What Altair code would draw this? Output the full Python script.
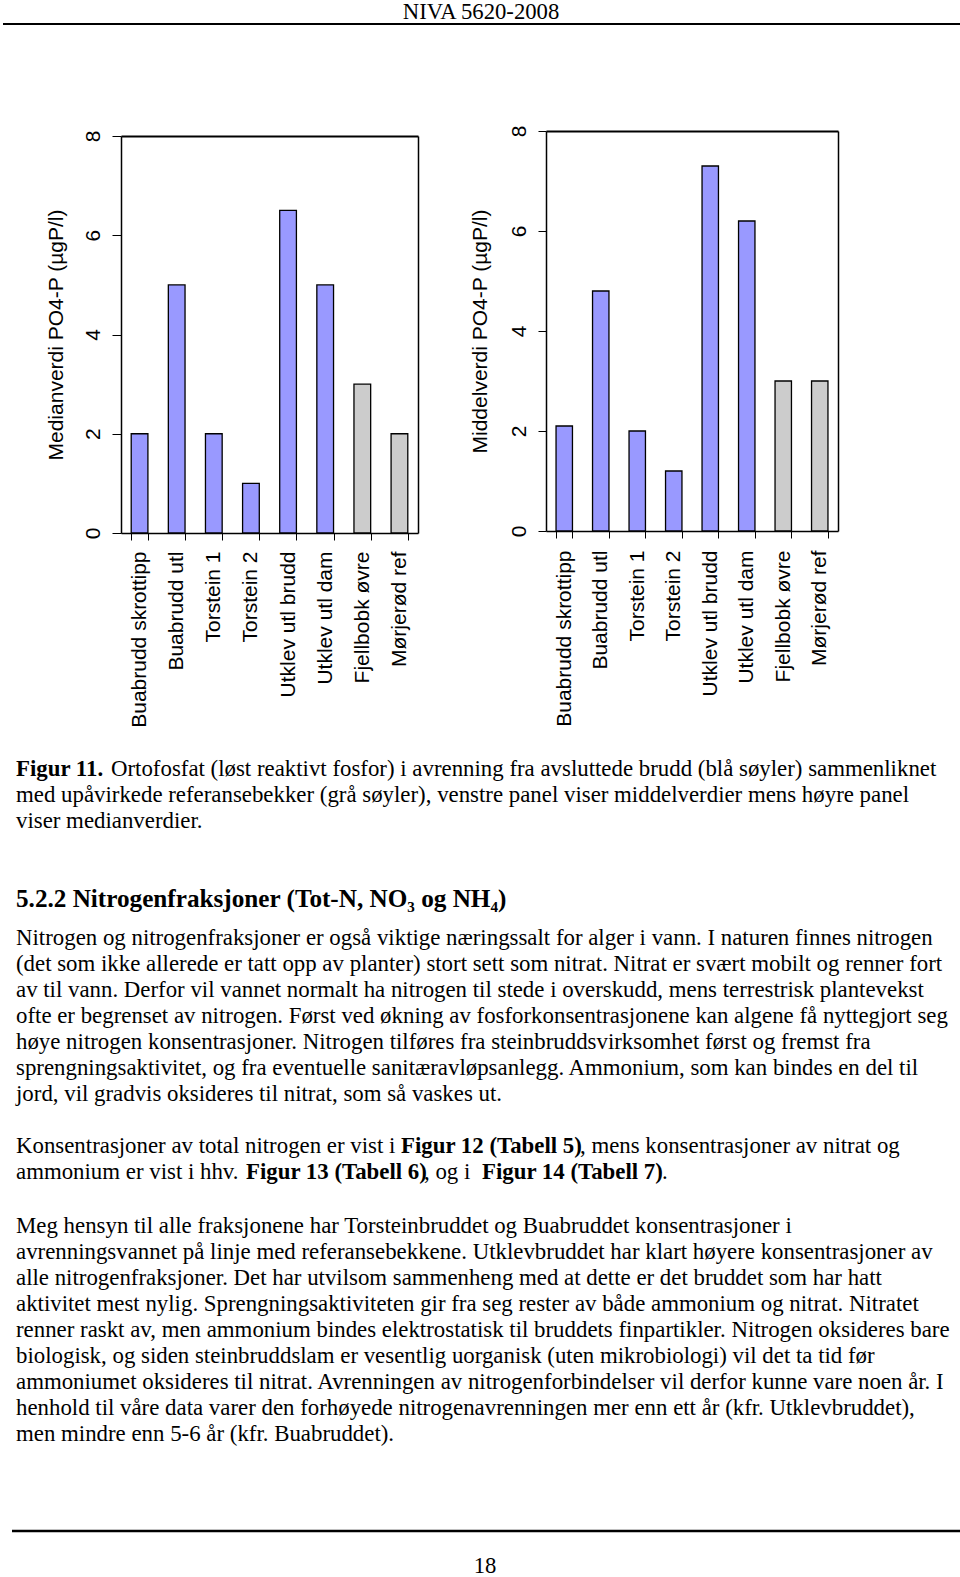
import altair as alt
import pandas as pd

# ---------------- chart data ----------------
sites = ["Buabrudd skrottipp", "Buabrudd utl", "Torstein 1", "Torstein 2",
         "Utklev utl brudd", "Utklev utl dam", "Fjellbobk øvre", "Mørjerød ref"]
groups = ["brudd", "brudd", "brudd", "brudd", "brudd", "brudd", "ref", "ref"]
median_vals = [2.0, 5.0, 2.0, 1.0, 6.5, 5.0, 3.0, 2.0]
mean_vals = [2.1, 4.8, 2.0, 1.2, 7.3, 6.2, 3.0, 3.0]
y_ticks = [0, 2, 4, 6, 8]

# ---------------- page text ----------------
header_text = "NIVA 5620-2008"
caption_bold = "Figur 11."
caption_first = "Ortofosfat (løst reaktivt fosfor) i avrenning fra avsluttede brudd (blå søyler) sammenliknet"
caption_rest = [
    "med upåvirkede referansebekker (grå søyler), venstre panel viser middelverdier mens høyre panel",
    "viser medianverdier.",
]
heading = "5.2.2 Nitrogenfraksjoner (Tot-N, NO₃ og NH₄)"
para1 = [
    "Nitrogen og nitrogenfraksjoner er også viktige næringssalt for alger i vann. I naturen finnes nitrogen",
    "(det som ikke allerede er tatt opp av planter) stort sett som nitrat. Nitrat er svært mobilt og renner fort",
    "av til vann. Derfor vil vannet normalt ha nitrogen til stede i overskudd, mens terrestrisk plantevekst",
    "ofte er begrenset av nitrogen. Først ved økning av fosforkonsentrasjonene kan algene få nyttegjort seg",
    "høye nitrogen konsentrasjoner. Nitrogen tilføres fra steinbruddsvirksomhet først og fremst fra",
    "sprengningsaktivitet, og fra eventuelle sanitæravløpsanlegg. Ammonium, som kan bindes en del til",
    "jord, vil gradvis oksideres til nitrat, som så vaskes ut.",
]
para2_l1 = ["Konsentrasjoner av total nitrogen er vist i", "Figur 12 (Tabell 5)",
            ", mens konsentrasjoner av nitrat og"]
para2_l2 = ["ammonium er vist i hhv.", "Figur 13 (Tabell 6)", ", og i",
            "Figur 14 (Tabell 7)", "."]
para3 = [
    "Meg hensyn til alle fraksjonene har Torsteinbruddet og Buabruddet konsentrasjoner i",
    "avrenningsvannet på linje med referansebekkene. Utklevbruddet har klart høyere konsentrasjoner av",
    "alle nitrogenfraksjoner. Det har utvilsom sammenheng med at dette er det bruddet som har hatt",
    "aktivitet mest nylig. Sprengningsaktiviteten gir fra seg rester av både ammonium og nitrat. Nitratet",
    "renner raskt av, men ammonium bindes elektrostatisk til bruddets finpartikler. Nitrogen oksideres bare",
    "biologisk, og siden steinbruddslam er vesentlig uorganisk (uten mikrobiologi) vil det ta tid før",
    "ammoniumet oksideres til nitrat. Avrenningen av nitrogenforbindelser vil derfor kunne vare noen år. I",
    "henhold til våre data varer den forhøyede nitrogenavrenningen mer enn ett år (kfr. Utklevbruddet),",
    "men mindre enn 5-6 år (kfr. Buabruddet).",
]
page_number = "18"

# ---------------- layout / style ----------------
PAGE_W, PAGE_H = 960, 1577
BLUE, GREY = "#9999FF", "#CCCCCC"
SANS = "Liberation Sans"
SERIF = "Liberation Serif"
BODY = 22.85
LH = 26

dummy = pd.DataFrame({"k": [0]})


def bar_panel(values, title, x0, x1, y0, y1, title_x, ytick, ypad, xpad):
    df = pd.DataFrame({"site": sites, "group": groups, "value": values})
    xscale = alt.Scale(domain=sites, range=[x0, x1], paddingInner=0.55, paddingOuter=0.275)
    yscale = alt.Scale(domain=[0, 8], range=[y1, y0], nice=False, zero=True)
    bars = alt.Chart(df).mark_bar(stroke="black", strokeWidth=1.3).encode(
        x=alt.X("site:N", sort=sites, scale=xscale,
                axis=alt.Axis(orient="bottom", offset=y1 - PAGE_H, title=None, grid=False,
                              tickBand="extent", tickSize=7, tickColor="black", tickWidth=1,
                              domainColor="black", domainWidth=1.5,
                              labelAngle=270, labelAlign="right", labelBaseline="middle",
                              labelPadding=xpad, labelFont=SANS, labelFontSize=21,
                              labelColor="black", labelOverlap=False, labelFlush=False)),
        y=alt.Y("value:Q", scale=yscale,
                axis=alt.Axis(orient="left", offset=-x0, title=title, values=y_ticks, grid=False,
                              tickSize=ytick, tickColor="black", tickWidth=1,
                              domainColor="black", domainWidth=1.5,
                              labelAngle=270, labelAlign="center", labelBaseline="alphabetic",
                              labelPadding=ypad, labelFont=SANS, labelFontSize=21,
                              labelColor="black", labelOverlap=False, labelFlush=False,
                              titleX=title_x, titleY=(y0 + y1) / 2, titleAngle=270,
                              titleAlign="center", titleBaseline="middle",
                              titleFont=SANS, titleFontSize=21, titleFontWeight="normal",
                              titleColor="black")),
        color=alt.Color("group:N", scale=alt.Scale(domain=["brudd", "ref"], range=[BLUE, GREY]),
                        legend=None),
    )
    frame = alt.Chart(df).mark_bar(opacity=0).encode(
        x=alt.X("site:N", sort=sites, scale=xscale,
                axis=alt.Axis(orient="top", offset=-y0, labels=False, ticks=False, title=None,
                              grid=False, domainColor="black", domainWidth=1.8)),
        y=alt.Y("value:Q", scale=yscale,
                axis=alt.Axis(orient="right", offset=x1 - PAGE_W, labels=False, ticks=False,
                              title=None, grid=False, domainColor="black", domainWidth=1.5)),
    )
    return alt.layer(bars, frame).resolve_axis(x="independent", y="independent")


left = bar_panel(median_vals, "Medianverdi PO4-P (µgP/l)", 121, 418, 136, 533, -65, 9, 13, 11)
right = bar_panel(mean_vals, "Middelverdi PO4-P (µgP/l)", 546, 838, 131, 531, -66, 8, 13, 12)


def text(content, x, y, size=BODY, bold=False, align="left"):
    return alt.Chart(dummy).mark_text(
        align=align, baseline="alphabetic", font=SERIF, fontSize=size,
        fontWeight="bold" if bold else "normal", lineHeight=LH, color="black",
    ).encode(x=alt.value(x), y=alt.value(y), text=alt.value(content))


def hline(x0, x1, y, w):
    return alt.Chart(dummy).mark_rule(color="black", strokeWidth=w).encode(
        x=alt.value(x0), x2=alt.value(x1), y=alt.value(y))


layers = [
    left, right,
    text(header_text, 481, 18.5, size=22.7, align="center"),
    hline(3, 960, 24, 2),
    text(caption_bold, 16, 776, bold=True),
    text(caption_first, 111, 776),
    text(caption_rest, 16, 802),
    text(heading, 16, 907, size=25.2, bold=True),
    text(para1, 16, 945),
    text(para2_l1[0], 16, 1153),
    text(para2_l1[1], 401, 1153, bold=True),
    text(para2_l1[2], 580, 1153),
    text(para2_l2[0], 16, 1179),
    text(para2_l2[1], 246, 1179, bold=True),
    text(para2_l2[2], 424, 1179),
    text(para2_l2[3], 482, 1179, bold=True),
    text(para2_l2[4], 662, 1179),
    text(para3, 16, 1233),
    hline(12, 960, 1531, 2.5),
    text(page_number, 485, 1573, size=22.7, align="center"),
]

chart = alt.layer(*layers).resolve_scale(
    x="independent", y="independent"
).properties(
    width=PAGE_W, height=PAGE_H, padding=0,
    autosize=alt.AutoSizeParams(type="none"),
).configure_view(stroke=None).configure_axis(grid=False)

chart.save("out.html", embed_options={"renderer": "svg", "actions": False})
